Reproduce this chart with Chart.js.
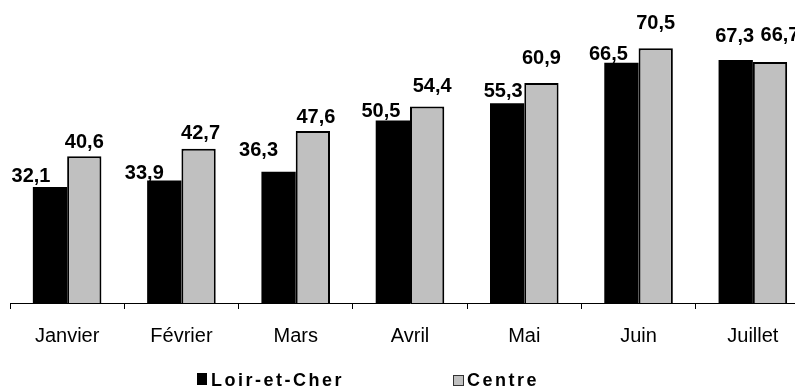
<!DOCTYPE html>
<html>
<head>
<meta charset="utf-8">
<script src="https://cdn.jsdelivr.net/npm/chart.js@4/dist/chart.umd.min.js"></script>
<style>
  body { margin: 0; overflow: hidden; background: #fff; }
  #wrap { position: absolute; left: 0; top: 0; width: 812px; height: 391px; }
  .legend { position: absolute; top: 370px; height: 18px; line-height: 18px;
            font: bold 18px "Liberation Sans", Arial, sans-serif; letter-spacing: 2.5px; color: #000; }
  .box { position: absolute; }
</style>
</head>
<body>
<div id="wrap">
  <canvas id="chart" width="812" height="391"></canvas>
  <div class="box" style="left:197px;top:373px;width:10px;height:12px;background:#000"></div>
  <div class="legend" style="left:211px">Loir-et-Cher</div>
  <div class="box" style="left:453px;top:375px;width:9px;height:9px;background:#c0c0c0;border:1px solid #333"></div>
  <div class="legend" style="left:467px">Centre</div>
</div>
<script>
// data
const months = ["Janvier", "Février", "Mars", "Avril", "Mai", "Juin", "Juillet"];
const loirEtCher = [32.1, 33.9, 36.3, 50.5, 55.3, 66.5, 67.3];
const centre = [40.6, 42.7, 47.6, 54.4, 60.9, 70.5, 66.7];

// label nudges (x shift, gap above bar top) - the labels were moved by hand in the original
const labelShift = [
  { dx: [-19, -20, -20, -12, -4, -13, -1], gap: [5, 2, 16, 4, 6, 3, 18] },
  { dx: [0, 2, 3, 5, 0, 0, 10], gap: [8, 10, 8, 14, 19, 19, 21] },
];

const fmt = (v) => v.toFixed(1).replace(".", ",");

const valueLabels = {
  id: "valueLabels",
  afterDatasetsDraw(chart) {
    const ctx = chart.ctx;
    ctx.save();
    ctx.font = 'bold 20px "Liberation Sans", Arial, sans-serif';
    ctx.fillStyle = "#000";
    ctx.textAlign = "center";
    ctx.textBaseline = "alphabetic";
    chart.data.datasets.forEach((ds, i) => {
      chart.getDatasetMeta(i).data.forEach((bar, j) => {
        const s = labelShift[i];
        ctx.fillText(fmt(ds.data[j]), bar.x + s.dx[j], bar.y - s.gap[j]);
      });
    });
    ctx.restore();
  },
};

new Chart(document.getElementById("chart"), {
  type: "bar",
  data: {
    labels: months,
    datasets: [
      { label: "Loir-et-Cher", data: loirEtCher, backgroundColor: "#000", borderWidth: 0 },
      { label: "Centre", data: centre, backgroundColor: "#c0c0c0", borderColor: "#000", borderWidth: 2 },
    ],
  },
  options: {
    responsive: false,
    animation: false,
    categoryPercentage: 0.6,
    barPercentage: 1,
    layout: { padding: { left: 10, right: 2, top: 14, bottom: 28 } },
    plugins: { legend: { display: false }, tooltip: { enabled: false } },
    scales: {
      y: { display: false, min: 0, max: 80 },
      x: {
        grid: { offset: true, drawOnChartArea: false, color: "#000", tickLength: 6 },
        border: { color: "#000", width: 1 },
        ticks: {
          color: "#000",
          padding: 15,
          font: { family: '"Liberation Sans", Arial, sans-serif', size: 20 },
        },
      },
    },
  },
  plugins: [valueLabels],
});
</script>
</body>
</html>
